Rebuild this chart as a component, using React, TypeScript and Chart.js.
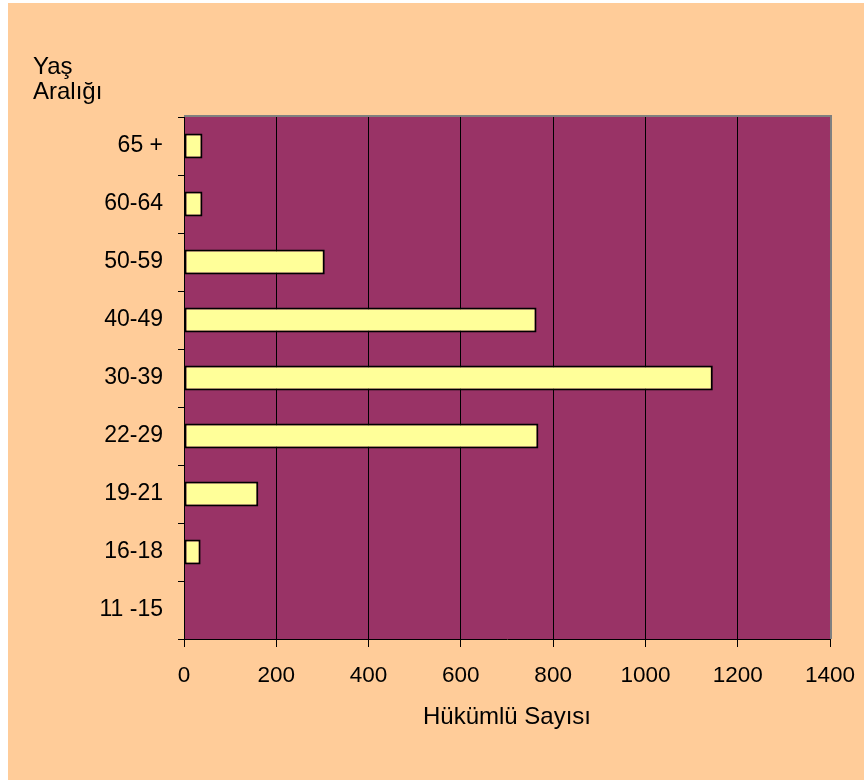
import React, { useEffect, useRef } from "react";
import { Chart, registerables } from "chart.js";

Chart.register(...registerables);

const categories = ["65 +", "60-64", "50-59", "40-49", "30-39", "22-29", "19-21", "16-18", "11 -15"];
const convicts = [40, 40, 305, 764, 1146, 768, 161, 36, 0];
const xTicks = [0, 200, 400, 600, 800, 1000, 1200, 1400];
const yTitleLines = ["Yaş", "Aralığı"];
const xTitle = "Hükümlü Sayısı";

const FONT = "'Liberation Sans', Arial, sans-serif";
const PEACH = "#FFCC99";
const PLUM = "#993366";
const BAR = "#FFFF99";

const bgPlugin = {
  id: "bgPlugin",
  beforeDraw(chart: any) {
    const { ctx, chartArea: a, width, height } = chart;
    ctx.save();
    ctx.fillStyle = PEACH;
    ctx.fillRect(0, 0, width, height);
    ctx.fillStyle = PLUM;
    ctx.fillRect(a.left, a.top, a.right - a.left, a.bottom - a.top);
    ctx.restore();
  },
  afterDraw(chart: any) {
    const { ctx, chartArea: a } = chart;
    ctx.save();
    ctx.strokeStyle = "#808080";
    ctx.lineWidth = 2;
    ctx.beginPath();
    ctx.moveTo(a.left, a.top - 1);
    ctx.lineTo(a.right + 1, a.top - 1);
    ctx.lineTo(a.right + 1, a.bottom);
    ctx.stroke();
    ctx.fillStyle = "#000";
    ctx.font = `24px ${FONT}`;
    ctx.textAlign = "left";
    ctx.textBaseline = "alphabetic";
    yTitleLines.forEach((t, i) => ctx.fillText(t, 25, 71 + i * 25));
    ctx.restore();
  },
};

export default function App() {
  const ref = useRef<HTMLCanvasElement>(null);
  useEffect(() => {
    document.body.style.margin = "0";
    document.body.style.overflow = "hidden";
    const chart = new Chart(ref.current!, {
      type: "bar",
      data: {
        labels: categories,
        datasets: [
          {
            data: convicts,
            backgroundColor: BAR,
            borderColor: "#000",
            borderWidth: 2,
            borderSkipped: false,
            categoryPercentage: 1,
            barPercentage: 0.43,
          },
        ],
      },
      options: {
        indexAxis: "y",
        responsive: false,
        animation: false,
        layout: { padding: { left: 0, top: 114, right: 34, bottom: 48 } },
        plugins: { legend: { display: false }, tooltip: { enabled: false } },
        scales: {
          x: {
            type: "linear",
            min: 0,
            max: 1400,
            afterBuildTicks: (s: any) => {
              s.ticks = xTicks.map((v) => ({ value: v }));
            },
            afterFit: (s: any) => {
              s.height = 93;
              s.paddingLeft = 0;
              s.paddingRight = 0;
            },
            grid: { color: "#000", lineWidth: 1, drawTicks: true, tickLength: 8, tickColor: "#000" },
            border: { color: "#000", width: 1 },
            ticks: {
              color: "#000",
              font: { family: FONT, size: 22.5 },
              padding: 15,
              maxRotation: 0,
              callback: (v: any) => String(v),
            },
            title: {
              display: true,
              text: xTitle,
              color: "#000",
              font: { family: FONT, size: 24 },
              padding: { top: 0, bottom: 0 },
            },
          },
          y: {
            type: "category",
            afterFit: (s: any) => {
              s.width = 176;
              s.paddingTop = 0;
              s.paddingBottom = 0;
            },
            grid: { drawOnChartArea: false, drawTicks: true, tickLength: 6, tickColor: "#000", offset: true },
            border: { color: "#000", width: 1 },
            ticks: { color: "#000", font: { family: FONT, size: 23 }, padding: 15 },
          },
        },
      },
      plugins: [bgPlugin],
    } as any);
    return () => chart.destroy();
  }, []);
  return (
    <div style={{ padding: "3px 0 0 8px" }}>
      <canvas ref={ref} width={856} height={777} style={{ display: "block", width: 856, height: 777 }} />
    </div>
  );
}
